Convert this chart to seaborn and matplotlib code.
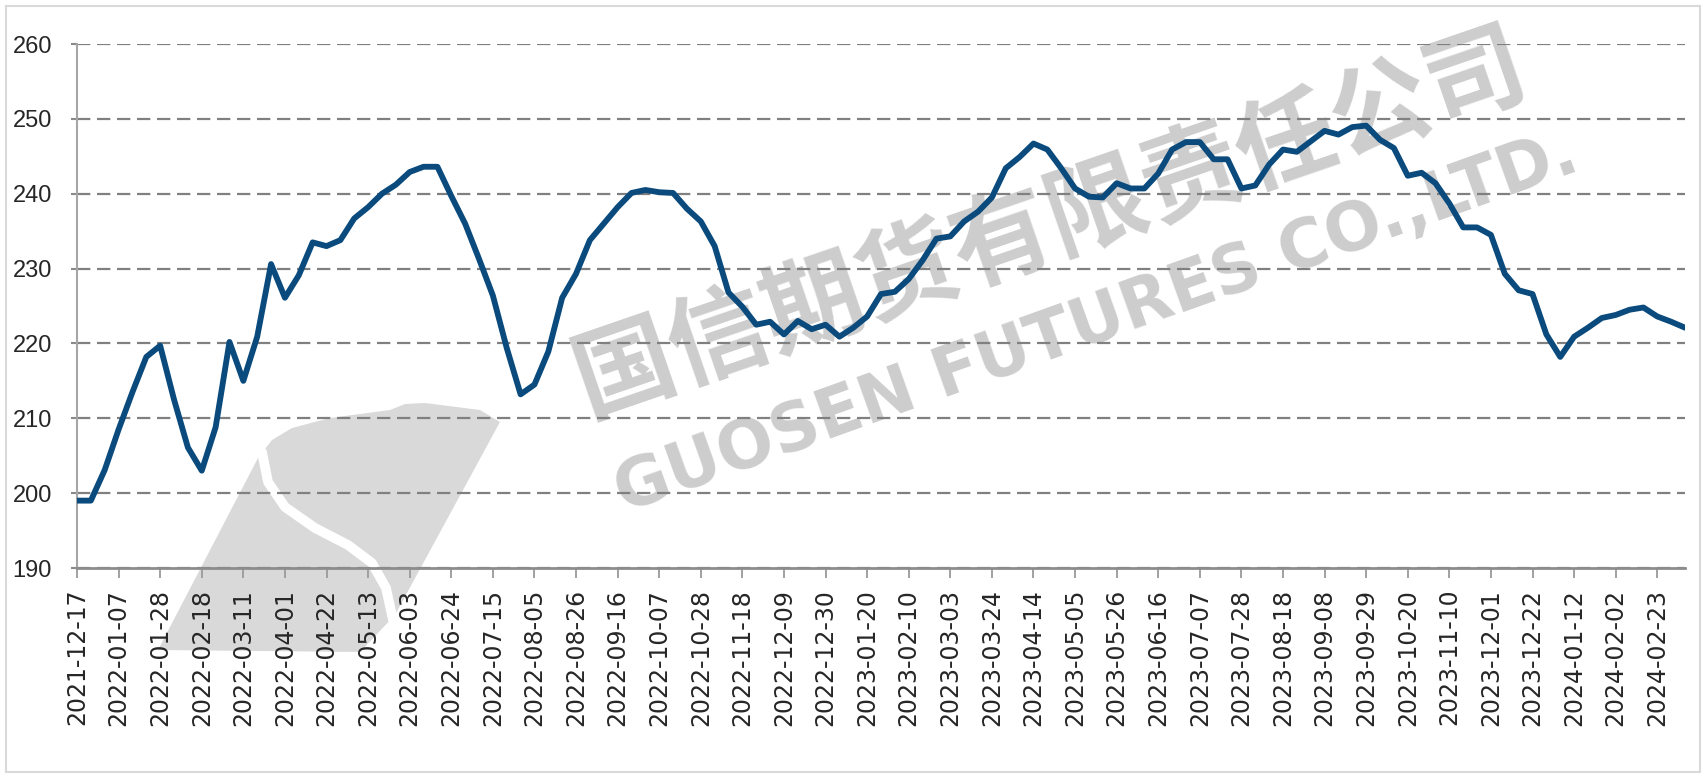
import numpy as np
import matplotlib.pyplot as plt
import pandas as pd
import seaborn as sns
from matplotlib.patches import Polygon, Rectangle
from matplotlib.lines import Line2D

# weekly values, 2021-12-17 .. 2024-03-08
values = [199.0, 199.0, 203.1, 208.5, 213.5, 218.2, 219.7, 212.5, 206.1, 203.0,
          208.8, 220.2, 215.0, 220.9, 230.6, 226.1, 229.1, 233.5, 233.0, 233.8,
          236.7, 238.2, 240.0, 241.2, 242.9, 243.6, 243.6, 239.7, 236.0, 231.3,
          226.4, 219.4, 213.2, 214.5, 218.9, 226.1, 229.3, 233.8, 236.0, 238.2,
          240.1, 240.5, 240.2, 240.1, 238.0, 236.3, 233.0, 226.8, 224.9, 222.5,
          222.9, 221.2, 223.0, 221.9, 222.5, 220.9, 222.1, 223.6, 226.6, 226.9,
          228.6, 231.1, 234.0, 234.3, 236.3, 237.6, 239.5, 243.4, 244.9, 246.7,
          245.9, 243.4, 240.7, 239.6, 239.5, 241.4, 240.7, 240.7, 242.7, 245.9,
          246.9, 246.9, 244.6, 244.6, 240.7, 241.1, 243.9, 245.9, 245.6, 247.0,
          248.4, 247.9, 248.9, 249.1, 247.2, 246.1, 242.4, 242.8, 241.4, 238.7,
          235.5, 235.5, 234.5, 229.3, 227.1, 226.6, 221.2, 218.2, 220.9, 222.1,
          223.4, 223.8, 224.5, 224.8, 223.6, 222.9, 222.1]
dates = pd.date_range("2021-12-17", periods=len(values), freq="7D").strftime("%Y-%m-%d").tolist()
y_ticks = [190, 200, 210, 220, 230, 240, 250, 260]
watermark_cn = "国信期货有限责任公司"
watermark_en = "GUOSEN FUTURES CO.,LTD."

sns.set_style("white")
plt.rcParams["font.family"] = ["DejaVu Sans", "Noto Sans CJK SC"]

W, H = 1702, 775
fig = plt.figure(figsize=(W / 100, H / 100), dpi=100)


def fp(x, y):
    # pixel position -> figure fraction
    return (x / W, 1 - y / H)


ax = fig.add_axes([77 / W, 1 - 568 / H, (1685 - 77) / W, (568 - 44) / H])
ax.patch.set_visible(False)

df = pd.DataFrame({"week": range(len(values)), "value": values})
sns.lineplot(data=df, x="week", y="value", color="#0a4a7c", linewidth=4.2, ax=ax, zorder=5)

ax.set_xlim(0, len(values) - 1)
ax.set_ylim(190, 260)
ax.set_yticks(y_ticks)
ax.set_xticks(range(0, len(values), 3))
ax.set_xticklabels(dates[::3], rotation=90, fontsize=17, family="DejaVu Sans")
ax.set_yticklabels([str(v) for v in y_ticks], fontsize=17, family="Liberation Sans")
ax.set_xlabel("")
ax.set_ylabel("")

ax.yaxis.grid(True, color="#808080", linewidth=1.6, linestyle=(0, (6, 3)))
ax.xaxis.grid(False)
ax.set_axisbelow(True)
for s in ["top", "right"]:
    ax.spines[s].set_visible(False)
ax.spines["left"].set_color("#a6a6a6")
ax.spines["left"].set_linewidth(1.5)
ax.spines["bottom"].set_color("#8c8c8c")
ax.spines["bottom"].set_linewidth(2)
ax.tick_params(axis="x", length=7, width=1.3, color="#9a9a9a", pad=8, direction="out", bottom=True)
ax.tick_params(axis="y", length=4, width=1.5, color="#8a8a8a", pad=14, direction="out", left=True)

# watermark (behind the chart)
logo = [fp(158, 650), fp(258, 458), fp(272, 440), fp(292, 428), fp(330, 418), fp(390, 410),
        fp(405, 404), fp(425, 403), fp(480, 410), fp(500, 422), fp(395, 615), fp(360, 652)]
fig.patches.append(Polygon(logo, closed=True, transform=fig.transFigure,
                           facecolor="#d9d9d9", edgecolor="none", zorder=-2))
curve = [fp(262, 452), fp(268, 482), fp(285, 507), fp(315, 528), fp(348, 545),
         fp(372, 563), fp(386, 588), fp(393, 620)]
fig.lines.append(Line2D([p[0] for p in curve], [p[1] for p in curve], transform=fig.transFigure,
                        color="white", linewidth=7, solid_capstyle="round", zorder=-1.5))
fig.text(*fp(1050, 224), watermark_cn, fontsize=72, fontweight="bold", color="#cdcdcd",
         family=["Noto Sans CJK SC", "DejaVu Sans"], rotation=19, rotation_mode="anchor",
         ha="center", va="center", zorder=-1)
fig.text(*fp(1096, 323), watermark_en, fontsize=48, fontweight="bold", color="#cdcdcd",
         family="DejaVu Sans", rotation=19.7, rotation_mode="anchor",
         ha="center", va="center", zorder=-1)

fig.patches.append(Rectangle(fp(6, 772), (W - 8) / W, 766 / H, transform=fig.transFigure,
                             fill=False, edgecolor="#d9d9d9", linewidth=1.5, zorder=-3))

fig.savefig("out.png", dpi=100)
